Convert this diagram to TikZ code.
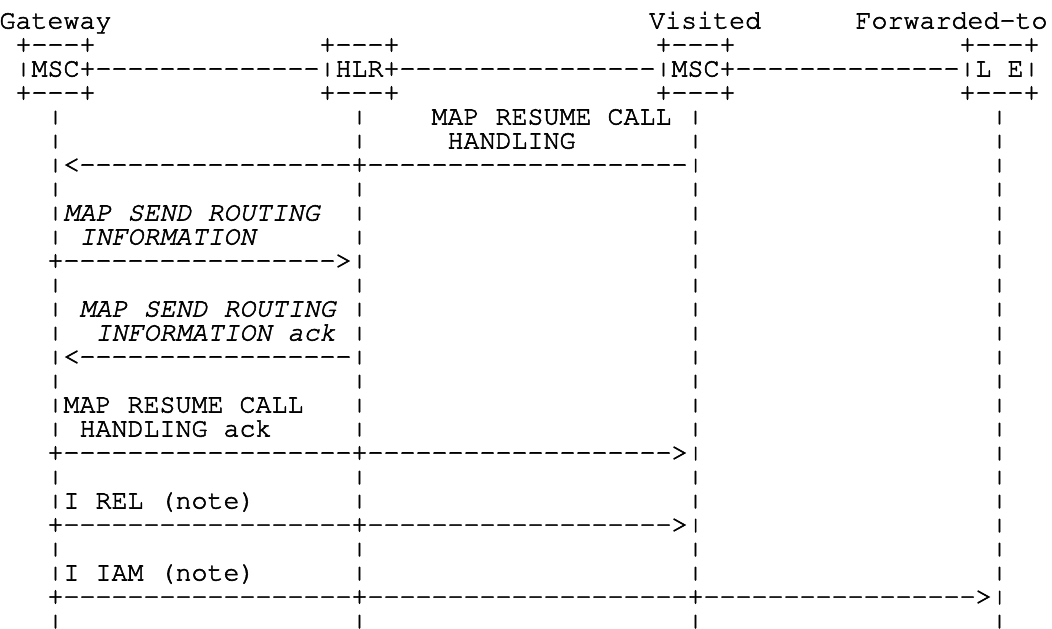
\documentclass[tikz,border=0pt]{standalone}
\usepackage[T1]{fontenc}
\usepackage{courier}
\usepackage{graphicx}
\newcommand{\repchar}[2]{\foreach \n in {1,...,#1}{#2}}
\newcommand{\vb}{\raisebox{0.09em}{\scalebox{1}[0.7]{|}}}

\begin{document}
\begin{tikzpicture}[x=16pt, y=-24pt,
	txt/.style={font=\fontsize{26.67}{24}\ttfamily\special{pdf:literal direct 2 Tr 0.55 w}, inner sep=0pt, outer sep=0pt, anchor=base west}]

	\useasboundingbox (0pt,0pt) rectangle (1052pt,-629pt);

	\begin{scope}[shift={(-0.5pt,-4.5pt)}]

		% heads
		\node[txt] (gw) at (0,1) {Gateway};
		\node[txt] (vis) at (40.6,1) {Visited};
		\node[txt] (fwd) at (53.5,1) {Forwarded-to};

		\foreach \c in {1,20,41,60} {
			\node[txt] (top\c) at (\c,2) {+\repchar{3}{-}+};
			\node[txt] (bot\c) at (\c,4) {+\repchar{3}{-}+};
		}
		\node[txt] (gmsc) at (1,3) {\vb MSC+};
		\node[txt] (link1) at (6,3) {\repchar{14}{-}};
		\node[txt] (hlr) at (20,3) {\vb HLR+};
		\node[txt] (link2) at (25,3) {\repchar{16}{-}};
		\node[txt] (vmsc) at (41,3) {\vb MSC+};
		\node[txt] (link3) at (46,3) {\repchar{14}{-}};
		\node[txt] (le) at (60,3) {\vb L E\vb};

		% lifelines
		\foreach \r in {5,6,8,9,10,12,13,14,16,17,18,20,21,23,24,26}
		\foreach \c in {3,22,43,62}
		\node[txt] (v\c-\r) at (\c,\r) {\vb};
		\foreach \r/\c in {7/3,7/62,11/43,11/62,15/43,15/62,19/62,22/62}
		\node[txt] (v\c-\r) at (\c,\r) {\vb};

		% messages
		\node[txt] (resume) at (27,5) {MAP RESUME CALL};
		\node[txt] (resumeb) at (28,6) {HANDLING};
		\node[txt] (arr1) at (4,7) {<\repchar{17}{-}+\repchar{20}{-}\vb};

		\node[txt] (sri) at (4,9) {\slshape MAP SEND ROUTING};
		\node[txt] (srib) at (5,10) {\slshape INFORMATION};
		\node[txt] (arr2) at (3,11) {+\repchar{17}{-}>\vb};

		\node[txt] (sriack) at (5,13) {\slshape MAP SEND ROUTING};
		\node[txt] (sriackb) at (6,14) {\slshape INFORMATION ack};
		\node[txt] (arr3) at (3,15) {\vb<\repchar{17}{-}\vb};

		\node[txt] (rchack) at (4,17) {MAP RESUME CALL};
		\node[txt] (rchackb) at (5,18) {HANDLING ack};
		\node[txt] (arr4) at (3,19) {+\repchar{18}{-}+\repchar{19}{-}>\vb};

		\node[txt] (rel) at (4,21) {I REL (note)};
		\node[txt] (arr5) at (3,22) {+\repchar{18}{-}+\repchar{19}{-}>\vb};

		\node[txt] (iam) at (4,24) {I IAM (note)};
		\node[txt] (arr6) at (3,25) {+\repchar{18}{-}+\repchar{20}{-}+\repchar{17}{-}>\vb};

	\end{scope}
\end{tikzpicture}
\end{document}
